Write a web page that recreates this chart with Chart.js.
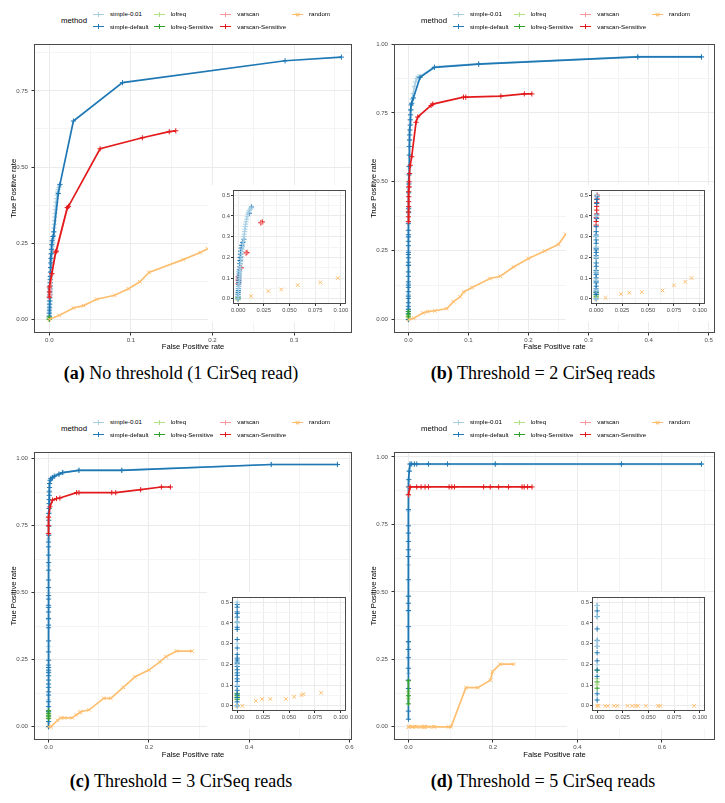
<!DOCTYPE html>
<html>
<head>
<meta charset="utf-8">
<script src="https://cdn.jsdelivr.net/npm/chart.js@4.4.1/dist/chart.umd.min.js"></script>
<style>
  body { margin: 0; background: #fff; }
  #fig { position: relative; width: 725px; height: 803px; overflow: hidden; background: #fff;
         font-family: "Liberation Sans", Arial, sans-serif; }
  .panel { position: absolute; width: 362px; height: 400px; }
  .panel canvas { position: absolute; }
  .lg-title { position: absolute; font-size: 7.8px; line-height: 10px; color: #000; }
  .lg-label { position: absolute; font-size: 6.2px; line-height: 8px; color: #000; white-space: nowrap; }
  .key { position: absolute; width: 11px; height: 7px; }
  .key i { position: absolute; background: var(--c); }
  .caption { position: absolute; width: 362px; text-align: center; color: #000;
             font-family: "Liberation Serif", "Times New Roman", serif; font-size: 18px; line-height: 18px; }
</style>
</head>
<body>
<div id="fig"></div>
<script>
// ---------------- data ----------------
const METHODS = ["simple-0.01", "simple-default", "lofreq", "lofreq-Sensitive", "varscan", "varscan-Sensitive", "random"];
const COLORS  = ["#A6CEE3", "#1F78B4", "#B2DF8A", "#33A02C", "#FB9A99", "#E31A1C", "#FDBF6F"];
const SHAPES  = ["cross", "cross", "cross", "cross", "cross", "cross", "crossRot"];

const CAPTION_TAGS = ["(a)", "(b)", "(c)", "(d)"];
const CAPTIONS = ["No threshold (1 CirSeq read)", "Threshold = 2 CirSeq reads",
                  "Threshold = 3 CirSeq reads", "Threshold = 5 CirSeq reads"];

// panel (a): no threshold
const A_SIMPLE_001 = [[0,0],[0,0.012],[0,0.024],[0.0003,0.036],[0.0005,0.048],[0.0006,0.06],[0.0008,0.072],[0.001,0.084],[0.001,0.096],[0.0012,0.108],[0.0014,0.12],[0.0016,0.132],[0.0018,0.144],[0.002,0.156],[0.0022,0.168],[0.0025,0.18],[0.0028,0.192],[0.003,0.204],[0.0033,0.216],[0.0036,0.228],[0.004,0.24],[0.0043,0.252],[0.0046,0.264],[0.005,0.276],[0.0053,0.288],[0.0057,0.3],[0.006,0.312],[0.0063,0.324],[0.0067,0.336],[0.007,0.348],[0.0074,0.36],[0.0078,0.372],[0.0083,0.384],[0.0088,0.396],[0.0094,0.408],[0.0101,0.418],[0.0109,0.426],[0.0118,0.433],[0.0126,0.438]];
const A_SIMPLE_DEF = [[0,0],[0,0.01],[0,0.02],[0,0.03],[0.0003,0.04],[0.0003,0.05],[0.0005,0.06],[0.0005,0.07],[0.0005,0.08],[0.0008,0.09],[0.0008,0.1],[0.001,0.11],[0.001,0.12],[0.001,0.13],[0.0012,0.14],[0.0014,0.155],[0.0016,0.17],[0.0018,0.185],[0.002,0.2],[0.0022,0.215],[0.0025,0.23],[0.003,0.245],[0.0035,0.258],[0.0045,0.272],[0.0055,0.287],[0.011,0.413],[0.013,0.443],[0.0295,0.651],[0.0896,0.777],[0.289,0.849],[0.358,0.861]];
const A_LOFREQ     = [[0,0],[0,0.004]];
const A_LOFREQ_S   = [[0,0],[0,0.007]];
const A_VARSCAN    = [[0,0.073],[0.001,0.08],[0.003,0.148],[0.0076,0.22],[0.0224,0.366]];
const A_VARSCAN_S  = [[0,0.073],[0,0.09],[0,0.106],[0.003,0.15],[0.0078,0.221],[0.0086,0.224],[0.022,0.367],[0.0235,0.371],[0.0622,0.56],[0.114,0.596],[0.147,0.616],[0.155,0.619]];
const A_RANDOM     = [[0,0],[0.0125,0.013],[0.0295,0.037],[0.042,0.045],[0.058,0.066],[0.08,0.079],[0.097,0.1],[0.111,0.123],[0.122,0.154],[0.164,0.196],[0.185,0.219],[0.194,0.232],[0.215,0.255]];

// panel (b): threshold = 2
const B_SIMPLE_001 = [[0,0],[0,0.04],[0,0.09],[0,0.13],[0,0.2],[0,0.25],[0,0.3],[0,0.4],[0.0005,0.5],[0.002,0.65],[0.004,0.76],[0.006,0.8],[0.008,0.82],[0.01,0.845],[0.012,0.862],[0.014,0.875],[0.016,0.882],[0.0194,0.882],[0.0433,0.917],[0.117,0.928],[0.382,0.954],[0.488,0.954]];
const B_SIMPLE_DEF = [[0,0],[0,0.021],[0,0.029],[0,0.037],[0,0.048],[0,0.061],[0,0.077],[0,0.085],[0,0.101],[0,0.117],[0,0.125],[0,0.137],[0,0.157],[0,0.173],[0,0.196],[0,0.208],[0,0.224],[0,0.236],[0,0.244],[0,0.268],[0,0.284],[0,0.3],[0,0.308],[0,0.324],[0,0.348],[0.0005,0.388],[0.0005,0.404],[0.0005,0.46],[0.0005,0.479],[0.0008,0.492],[0.001,0.525],[0.001,0.555],[0.0015,0.597],[0.0015,0.628],[0.002,0.652],[0.002,0.67],[0.0025,0.688],[0.003,0.706],[0.003,0.725],[0.0035,0.743],[0.004,0.761],[0.0045,0.779],[0.0055,0.785],[0.0083,0.804],[0.0194,0.879],[0.0433,0.915],[0.117,0.927],[0.382,0.953],[0.488,0.953]];
const B_LOFREQ     = [[0,0.005],[0,0.015]];
const B_LOFREQ_S   = [[0,0.01],[0,0.02],[0,0.03]];
const B_VARSCAN    = [[0,0.356],[0.0005,0.48]];
const B_VARSCAN_S  = [[0,0.355],[0,0.373],[0,0.391],[0.0005,0.41],[0.0005,0.428],[0.0005,0.446],[0.0005,0.464],[0.001,0.482],[0.001,0.5],[0.002,0.53],[0.003,0.56],[0.0055,0.591],[0.0127,0.716],[0.0155,0.735],[0.0377,0.777],[0.0405,0.782],[0.0917,0.807],[0.0955,0.807],[0.154,0.811],[0.193,0.819],[0.2055,0.819]];
const B_RANDOM     = [[0,0],[0.009,0.005],[0.024,0.024],[0.032,0.029],[0.044,0.032],[0.064,0.04],[0.075,0.065],[0.086,0.082],[0.092,0.1],[0.106,0.116],[0.136,0.149],[0.153,0.157],[0.175,0.191],[0.2,0.222],[0.227,0.249],[0.25,0.273],[0.262,0.31],[0.285,0.36]];

// panel (c): threshold = 3
const C_SIMPLE_001 = [[0,0],[0,0.1],[0,0.2],[0,0.3],[0,0.4],[0,0.5],[0,0.6],[0,0.7],[0.001,0.8],[0.002,0.88],[0.004,0.92],[0.008,0.93],[0.013,0.936],[0.02,0.942],[0.03,0.948],[0.0606,0.957],[0.146,0.957],[0.444,0.978],[0.576,0.978]];
const C_SIMPLE_DEF = [[0,0],[0,0.019],[0,0.04],[0,0.056],[0,0.075],[0,0.093],[0,0.118],[0,0.13],[0,0.147],[0,0.159],[0,0.174],[0,0.19],[0,0.203],[0,0.211],[0,0.221],[0,0.23],[0,0.248],[0,0.279],[0,0.32],[0,0.369],[0,0.379],[0,0.404],[0,0.428],[0,0.445],[0,0.453],[0,0.476],[0,0.489],[0,0.519],[0,0.547],[0,0.584],[0,0.612],[0,0.64],[0,0.671],[0,0.689],[0.0005,0.714],[0.0005,0.748],[0.0005,0.77],[0.0005,0.795],[0.001,0.814],[0.001,0.832],[0.001,0.847],[0.0015,0.863],[0.0015,0.876],[0.002,0.892],[0.002,0.907],[0.003,0.919],[0.0047,0.926],[0.008,0.929],[0.0113,0.934],[0.021,0.942],[0.0276,0.948],[0.0606,0.956],[0.146,0.956],[0.444,0.978],[0.576,0.978]];
const C_LOFREQ     = [[0,0.035],[0,0.045]];
const C_LOFREQ_S   = [[0,0.03],[0,0.04],[0,0.05],[0,0.06]];
const C_VARSCAN    = [[0,0.72],[0,0.78]];
const C_VARSCAN_S  = [[0,0.72],[0,0.75],[0,0.782],[0.0028,0.82],[0.008,0.845],[0.0158,0.851],[0.0225,0.853],[0.056,0.873],[0.0606,0.873],[0.126,0.873],[0.134,0.873],[0.1836,0.884],[0.225,0.894],[0.243,0.894]];
const C_RANDOM     = [[0,0],[0.005,0],[0.018,0.024],[0.024,0.033],[0.032,0.033],[0.047,0.033],[0.055,0.044],[0.062,0.052],[0.064,0.056],[0.081,0.063],[0.11,0.106],[0.124,0.106],[0.149,0.147],[0.1725,0.186],[0.2,0.211],[0.222,0.242],[0.234,0.261],[0.255,0.282],[0.286,0.282]];

// panel (d): threshold = 5
const D_SIMPLE_001 = [[0,0.198],[0,0.286],[0,0.313],[0,0.429],[0,0.484],[0,0.6],[0,0.8],[0.002,0.95],[0.0039,0.973],[0.0142,0.973],[0.0474,0.973],[0.2055,0.973],[0.504,0.973],[0.6935,0.973]];
const D_SIMPLE_DEF = [[0,0.028],[0,0.058],[0,0.142],[0,0.173],[0,0.217],[0,0.256],[0,0.287],[0,0.316],[0,0.371],[0,0.431],[0,0.458],[0,0.484],[0,0.545],[0,0.631],[0,0.656],[0,0.687],[0,0.718],[0,0.745],[0,0.805],[0,0.889],[0.001,0.916],[0.002,0.947],[0.0039,0.974],[0.0078,0.974],[0.0142,0.974],[0.0197,0.974],[0.0474,0.974],[0.0925,0.974],[0.2055,0.974],[0.504,0.974],[0.6935,0.974]];
const D_LOFREQ     = [[0,0.104],[0,0.13]];
const D_LOFREQ_S   = [[0,0.085],[0,0.115],[0,0.171]];
const D_VARSCAN    = [[0,0.86],[0.0039,0.887]];
const D_VARSCAN_S  = [[0,0.86],[0.0039,0.889],[0.0197,0.889],[0.03,0.889],[0.0394,0.889],[0.0474,0.889],[0.0963,0.889],[0.1027,0.889],[0.109,0.889],[0.178,0.889],[0.1936,0.889],[0.2135,0.889],[0.237,0.889],[0.269,0.889],[0.274,0.889],[0.282,0.889],[0.2925,0.889]];
const D_RANDOM     = [[0,0],[0.0013,0],[0.0078,0],[0.0105,0],[0.0164,0],[0.0197,0],[0.0296,0],[0.0342,0],[0.0375,0],[0.0395,0],[0.0474,0],[0.0593,0],[0.0615,0],[0.0944,0],[0.101,0],[0.136,0.145],[0.164,0.145],[0.194,0.173],[0.199,0.204],[0.217,0.232],[0.249,0.232]];

// axis ranges and tick labels
const A_X_RANGE = [-0.0188, 0.371],  A_Y_RANGE = [-0.045, 0.904];
const B_X_RANGE = [-0.024, 0.5105],  B_Y_RANGE = [-0.0487, 1.0];
const C_X_RANGE = [-0.029, 0.605],   C_Y_RANGE = [-0.0496, 1.0246];
const D_X_RANGE = [-0.0341, 0.7255], D_Y_RANGE = [-0.049, 1.0185];

const A_X_TICKS = [0, 0.1, 0.2, 0.3],           A_X_LABELS = ["0.0", "0.1", "0.2", "0.3"];
const B_X_TICKS = [0, 0.1, 0.2, 0.3, 0.4, 0.5], B_X_LABELS = ["0.0", "0.1", "0.2", "0.3", "0.4", "0.5"];
const CD_X_TICKS = [0, 0.2, 0.4, 0.6],          CD_X_LABELS = ["0.0", "0.2", "0.4", "0.6"];
const A_Y_TICKS = [0, 0.25, 0.5, 0.75],         A_Y_LABELS = ["0.00", "0.25", "0.50", "0.75"];
const Y_TICKS = [0, 0.25, 0.5, 0.75, 1],        Y_LABELS = ["0.00", "0.25", "0.50", "0.75", "1.00"];

// inset shows only the FPR <= 0.1, TPR <= 0.5 corner
const INSET_MAX = [0.1, 0.5];
const INSET_X_RANGE = [-0.005, 0.105], INSET_Y_RANGE = [-0.025, 0.525];
const INSET_X_TICKS = [0, 0.025, 0.05, 0.075, 0.1], INSET_X_LABELS = ["0.000", "0.025", "0.050", "0.075", "0.100"];
const INSET_Y_TICKS = [0, 0.1, 0.2, 0.3, 0.4, 0.5], INSET_Y_LABELS = ["0.0", "0.1", "0.2", "0.3", "0.4", "0.5"];

// ---------------- layout ----------------
const FONT = '"Liberation Sans", Arial, sans-serif';
const MAIN_TOP = 30, MAIN_W = 360, MAIN_H = 330;

const PANELS = [
  { left: 0,   top: 0,   frame: [34, 44, 352, 333], inset: [233, 189, 346, 304], lg: 0,
    xr: A_X_RANGE, yr: A_Y_RANGE, xt: A_X_TICKS, xl: A_X_LABELS, yt: A_Y_TICKS, yl: A_Y_LABELS,
    series: [A_SIMPLE_001, A_SIMPLE_DEF, A_LOFREQ, A_LOFREQ_S, A_VARSCAN, A_VARSCAN_S, A_RANDOM] },
  { left: 362, top: 0,   frame: [32, 44, 353, 333], inset: [229, 189, 343, 304], lg: -2,
    xr: B_X_RANGE, yr: B_Y_RANGE, xt: B_X_TICKS, xl: B_X_LABELS, yt: Y_TICKS, yl: Y_LABELS,
    series: [B_SIMPLE_001, B_SIMPLE_DEF, B_LOFREQ, B_LOFREQ_S, B_VARSCAN, B_VARSCAN_S, B_RANDOM] },
  { left: 0,   top: 408, frame: [34, 44, 352, 332], inset: [232, 188, 346, 303], lg: 0,
    xr: C_X_RANGE, yr: C_Y_RANGE, xt: CD_X_TICKS, xl: CD_X_LABELS, yt: Y_TICKS, yl: Y_LABELS,
    series: [C_SIMPLE_001, C_SIMPLE_DEF, C_LOFREQ, C_LOFREQ_S, C_VARSCAN, C_VARSCAN_S, C_RANDOM] },
  { left: 362, top: 408, frame: [32, 44, 353, 332], inset: [230, 188, 343, 303], lg: -2,
    xr: D_X_RANGE, yr: D_Y_RANGE, xt: CD_X_TICKS, xl: CD_X_LABELS, yt: Y_TICKS, yl: Y_LABELS,
    series: [D_SIMPLE_001, D_SIMPLE_DEF, D_LOFREQ, D_LOFREQ_S, D_VARSCAN, D_VARSCAN_S, D_RANDOM] },
];

// legend columns (ggplot fills by column, 2 rows)
const LG_LABEL_X = [110, 170.7, 237.3, 309];
const LG_ROW_Y = [14.3, 26.7];

// ---------------- helpers ----------------
// majors + ggplot-style minor breaks (midpoints, incl. one outside each end if still in range)
function buildTicks(majors, labels, range) {
  const out = [];
  majors.forEach((v, i) => { if (v >= range[0] && v <= range[1]) out.push({ value: v, lbl: labels[i], minor: false }); });
  const step = majors[1] - majors[0];
  for (let k = -1; k < majors.length; k++) {
    const v = majors[0] + (k + 0.5) * step;
    if (v > range[0] && v < range[1]) out.push({ value: v, lbl: "", minor: true });
  }
  return out.sort((a, b) => a.value - b.value);
}

function axis(range, majors, labels, o) {
  return {
    type: "linear", min: range[0], max: range[1],
    afterBuildTicks: (s) => { s.ticks = buildTicks(majors, labels, range); },
    afterFit: (s) => { if (o.width != null) s.width = o.width; if (o.height != null) s.height = o.height; },
    ticks: {
      autoSkip: false, maxRotation: 0, minRotation: 0, padding: o.pad, color: "#4D4D4D",
      font: { family: FONT, size: o.fs },
      callback: (v, i, t) => t[i].lbl,
    },
    grid: {
      color: (c) => (c.tick && c.tick.minor ? "#F4F4F4" : "#EBEBEB"),
      lineWidth: 1, drawTicks: true, tickLength: o.tl, tickWidth: 1,
      tickColor: (c) => (c.tick && c.tick.minor ? "rgba(0,0,0,0)" : "#333333"),
    },
    border: { display: false },
    title: o.title
      ? { display: true, text: o.title, color: "#000", font: { family: FONT, size: 7.6 }, padding: o.titlePad }
      : { display: false },
  };
}

const framePlugin = {
  id: "frame",
  beforeDraw(chart, args, opts) {
    if (!opts.fill) return;
    const c = chart.ctx;
    c.save(); c.fillStyle = "#fff"; c.fillRect(0, 0, chart.width, chart.height); c.restore();
  },
  afterDatasetsDraw(chart) {
    const a = chart.chartArea, c = chart.ctx;
    c.save();
    c.strokeStyle = "#4a4a4a"; c.lineWidth = 1;
    c.strokeRect(Math.round(a.left) + 0.5, Math.round(a.top) + 0.5,
                 Math.round(a.right - a.left) - 1, Math.round(a.bottom - a.top) - 1);
    c.restore();
  },
};

function datasets(series, inset) {
  const ds = series.map((pts, i) => ({
    label: METHODS[i],
    data: pts
      .filter((p) => !inset || (p[0] <= INSET_MAX[0] && p[1] <= INSET_MAX[1]))
      .map((p) => ({ x: p[0], y: p[1] })),
    showLine: !inset,
    borderColor: COLORS[i], backgroundColor: COLORS[i],
    borderWidth: 1.7, tension: 0,
    pointStyle: SHAPES[i], pointRadius: 2.6, pointBorderWidth: 1,
    pointBorderColor: COLORS[i], pointBackgroundColor: COLORS[i],
    clip: inset ? 0 : 3,
  }));
  // chart.js paints dataset 0 on top; the main panels have the last level on top,
  // the insets keep the simple-* markers on top
  return inset ? ds : ds.reverse();
}

function makeCanvas(parent, left, top, w, h) {
  const cv = document.createElement("canvas");
  cv.width = w; cv.height = h;
  cv.style.left = left + "px"; cv.style.top = top + "px";
  cv.style.width = w + "px"; cv.style.height = h + "px";
  parent.appendChild(cv);
  return cv;
}

function drawLegend(panel, shift) {
  const t = document.createElement("div");
  t.className = "lg-title"; t.textContent = "method";
  t.style.left = (61 + shift) + "px"; t.style.top = (21 - 5) + "px";
  panel.appendChild(t);
  METHODS.forEach((m, i) => {
    const col = Math.floor(i / 2), row = i % 2;
    const lx = LG_LABEL_X[col] + shift, cy = LG_ROW_Y[row];
    const key = document.createElement("div");
    key.className = "key";
    key.style.setProperty("--c", COLORS[i]);
    key.style.left = (lx - 17) + "px"; key.style.top = (cy - 3.5) + "px";
    let html = '<i style="left:0;top:2.8px;width:11px;height:1.4px"></i>';
    if (SHAPES[i] === "cross") {
      html += '<i style="left:5px;top:0.8px;width:1px;height:5.4px"></i>';
    } else {
      html += '<i style="left:5px;top:0.8px;width:1px;height:5.4px;transform:rotate(45deg)"></i>' +
              '<i style="left:5px;top:0.8px;width:1px;height:5.4px;transform:rotate(-45deg)"></i>';
    }
    key.innerHTML = html;
    panel.appendChild(key);
    const lab = document.createElement("div");
    lab.className = "lg-label"; lab.textContent = m;
    lab.style.left = lx + "px"; lab.style.top = (cy - 4) + "px";
    panel.appendChild(lab);
  });
}

// ---------------- build ----------------
const fig = document.getElementById("fig");

PANELS.forEach((p, idx) => {
  const panel = document.createElement("div");
  panel.className = "panel";
  panel.style.left = p.left + "px"; panel.style.top = p.top + "px";
  fig.appendChild(panel);

  // main plot
  const [L, T, R, B] = p.frame;
  const mainCv = makeCanvas(panel, 0, MAIN_TOP, MAIN_W, MAIN_H);
  const lh = 7.6 * 1.2;
  new Chart(mainCv.getContext("2d"), {
    type: "scatter",
    data: { datasets: datasets(p.series, false) },
    options: {
      responsive: false, animation: false, devicePixelRatio: 1,
      layout: { padding: { left: 0, top: T - MAIN_TOP, right: MAIN_W - R, bottom: 0 } },
      plugins: { legend: { display: false }, tooltip: { enabled: false }, frame: { fill: false } },
      scales: {
        x: axis(p.xr, p.xt, p.xl, { height: MAIN_H - (B - MAIN_TOP), pad: 1, tl: 2.5, fs: 6.1,
              title: "False Positive rate", titlePad: { top: 0, bottom: 8.7 } }),
        y: axis(p.yr, p.yt, p.yl, { width: L, pad: 3.5, tl: 2.5, fs: 6.1,
              title: "True Positive rate", titlePad: { top: Math.max(0, L - 20.5 - lh / 2), bottom: 0 } }),
      },
    },
    plugins: [framePlugin],
  });

  // inset (zoom on the low-FPR corner), drawn on a white box over the main panel
  const [iL, iT, iR, iB] = p.inset;
  const bx = iL - 25, by = iT - 4, bw = (R - 1) - bx, bh = (iB + 18) - by;
  const insetCv = makeCanvas(panel, bx, by, bw, bh);
  new Chart(insetCv.getContext("2d"), {
    type: "scatter",
    data: { datasets: datasets(p.series, true) },
    options: {
      responsive: false, animation: false, devicePixelRatio: 1,
      layout: { padding: { left: 0, top: iT - by, right: bw - (iR - bx), bottom: 0 } },
      plugins: { legend: { display: false }, tooltip: { enabled: false }, frame: { fill: true } },
      scales: {
        x: axis(INSET_X_RANGE, INSET_X_TICKS, INSET_X_LABELS, { height: bh - (iB - by), pad: 1, tl: 2, fs: 5.8 }),
        y: axis(INSET_Y_RANGE, INSET_Y_TICKS, INSET_Y_LABELS, { width: iL - bx, pad: 1, tl: 2, fs: 5.8 }),
      },
    },
    plugins: [framePlugin],
  });

  drawLegend(panel, p.lg);

  const cap = document.createElement("div");
  cap.className = "caption";
  cap.style.left = "0px"; cap.style.top = "364px";
  cap.innerHTML = "<b>" + CAPTION_TAGS[idx] + "</b> " + CAPTIONS[idx];
  panel.appendChild(cap);
});
</script>
</body>
</html>
